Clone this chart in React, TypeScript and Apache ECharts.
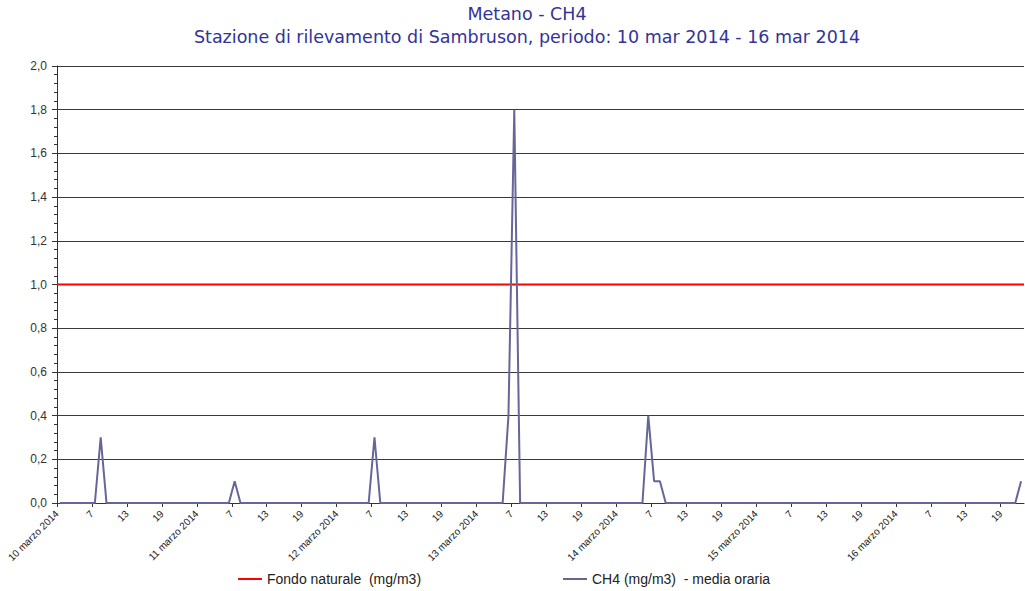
import React, { useEffect, useRef } from "react";
import * as echarts from "echarts";

// Hourly CH4 means (mg/m3), one array per day (hour slots from 01:00)
const ch4Day10 = [0, 0, 0, 0, 0, 0, 0, 0.3, 0, 0, 0, 0, 0, 0, 0, 0, 0, 0, 0, 0, 0, 0, 0, 0];
const ch4Day11 = [0, 0, 0, 0, 0, 0, 0.1, 0, 0, 0, 0, 0, 0, 0, 0, 0, 0, 0, 0, 0, 0, 0, 0, 0];
const ch4Day12 = [0, 0, 0, 0, 0, 0, 0.3, 0, 0, 0, 0, 0, 0, 0, 0, 0, 0, 0, 0, 0, 0, 0, 0, 0];
const ch4Day13 = [0, 0, 0, 0, 0, 0.4, 1.8, 0, 0, 0, 0, 0, 0, 0, 0, 0, 0, 0, 0, 0, 0, 0, 0, 0];
const ch4Day14 = [0, 0, 0, 0, 0, 0.4, 0.1, 0.1, 0, 0, 0, 0, 0, 0, 0, 0, 0, 0, 0, 0, 0, 0, 0, 0];
const ch4Day15 = [0, 0, 0, 0, 0, 0, 0, 0, 0, 0, 0, 0, 0, 0, 0, 0, 0, 0, 0, 0, 0, 0, 0, 0];
const ch4Day16 = [0, 0, 0, 0, 0, 0, 0, 0, 0, 0, 0, 0, 0, 0, 0, 0, 0, 0, 0, 0, 0, 0.1];

const FONDO_NATURALE = 1.0;
const HOURS_SPAN = 166;

const xTickLabels = [
  "10 marzo 2014", "7", "13", "19",
  "11 marzo 2014", "7", "13", "19",
  "12 marzo 2014", "7", "13", "19",
  "13 marzo 2014", "7", "13", "19",
  "14 marzo 2014", "7", "13", "19",
  "15 marzo 2014", "7", "13", "19",
  "16 marzo 2014", "7", "13", "19",
];

const yTicks = ["0,0", "0,2", "0,4", "0,6", "0,8", "1,0", "1,2", "1,4", "1,6", "1,8", "2,0"];

const titleText = "Metano - CH4";
const subtitleText = "Stazione di rilevamento di Sambruson, periodo: 10 mar 2014 - 16 mar 2014";
const seriesNames = ["Fondo naturale  (mg/m3)", "CH4 (mg/m3)  - media oraria"];

export default function App() {
  const ref = useRef<HTMLDivElement>(null);

  useEffect(() => {
    if (!ref.current) return;
    const chart = echarts.init(ref.current, undefined, { renderer: "svg" });
    const ch4 = [
      ...ch4Day10, ...ch4Day11, ...ch4Day12, ...ch4Day13,
      ...ch4Day14, ...ch4Day15, ...ch4Day16,
    ];
    // hourly means plotted at the middle of their hour
    const ch4Data = ch4.map((v, i) => [i + 0.5, v]);
    const fondoData = [
      [0, FONDO_NATURALE],
      [HOURS_SPAN, FONDO_NATURALE],
    ];

    const titleStyle = {
      fontFamily: "DejaVu Sans",
      fontSize: 17.5,
      fontWeight: "normal",
      color: "#333399",
    };
    const legendText = { fontFamily: "Liberation Sans", fontSize: 14, color: "#222" };

    chart.setOption({
      animation: false,
      backgroundColor: "#ffffff",
      title: [
        { text: titleText, left: 527, textAlign: "center", top: 5, padding: 0, textStyle: titleStyle },
        { text: subtitleText, left: 527, textAlign: "center", top: 28, padding: 0, textStyle: titleStyle },
      ],
      legend: [
        {
          data: [seriesNames[0]],
          left: 238,
          top: 572,
          padding: 0,
          icon: "rect",
          itemWidth: 24,
          itemHeight: 2,
          itemGap: 0,
          textStyle: legendText,
        },
        {
          data: [seriesNames[1]],
          left: 563,
          top: 572,
          padding: 0,
          icon: "rect",
          itemWidth: 24,
          itemHeight: 2,
          itemGap: 0,
          textStyle: legendText,
        },
      ],
      grid: { left: 57, right: 1, top: 66, bottom: 88, containLabel: false },
      xAxis: {
        type: "value",
        min: 0,
        max: HOURS_SPAN,
        interval: 6,
        axisLine: { show: true, lineStyle: { color: "#333", width: 1 } },
        axisTick: { show: true, length: 4, lineStyle: { color: "#333" } },
        splitLine: { show: false },
        axisLabel: {
          rotate: 45,
          margin: 9,
          fontSize: 10,
          fontFamily: "Liberation Sans",
          color: "#222",
          showMaxLabel: false,
          formatter: (v: number) => {
            if (v % 6 !== 0) return "";
            return xTickLabels[v / 6] ?? "";
          },
        },
      },
      yAxis: {
        type: "value",
        min: 0,
        max: 2,
        interval: 0.2,
        axisLine: { show: true, lineStyle: { color: "#333", width: 1 } },
        axisTick: { show: true, length: 5, lineStyle: { color: "#333" } },
        minorTick: { show: true, splitNumber: 5, length: 3, lineStyle: { color: "#333" } },
        splitLine: { show: true, lineStyle: { color: "#3a3a3a", width: 1 } },
        axisLabel: {
          margin: 10,
          fontSize: 12,
          fontFamily: "Liberation Sans",
          color: "#333",
          formatter: (v: number) => yTicks[Math.round(v / 0.2)] ?? "",
        },
      },
      series: [
        {
          name: seriesNames[0],
          type: "line",
          data: fondoData,
          symbol: "none",
          lineStyle: { color: "#ff0000", width: 2 },
          itemStyle: { color: "#ff0000" },
          z: 3,
        },
        {
          name: seriesNames[1],
          type: "line",
          data: ch4Data,
          symbol: "none",
          lineStyle: { color: "#666699", width: 2 },
          itemStyle: { color: "#666699" },
          z: 4,
        },
      ],
    });
    return () => chart.dispose();
  }, []);

  return (
    <div
      ref={ref}
      style={{ position: "fixed", left: 0, top: 0, width: 1025, height: 591, background: "#fff" }}
    />
  );
}
